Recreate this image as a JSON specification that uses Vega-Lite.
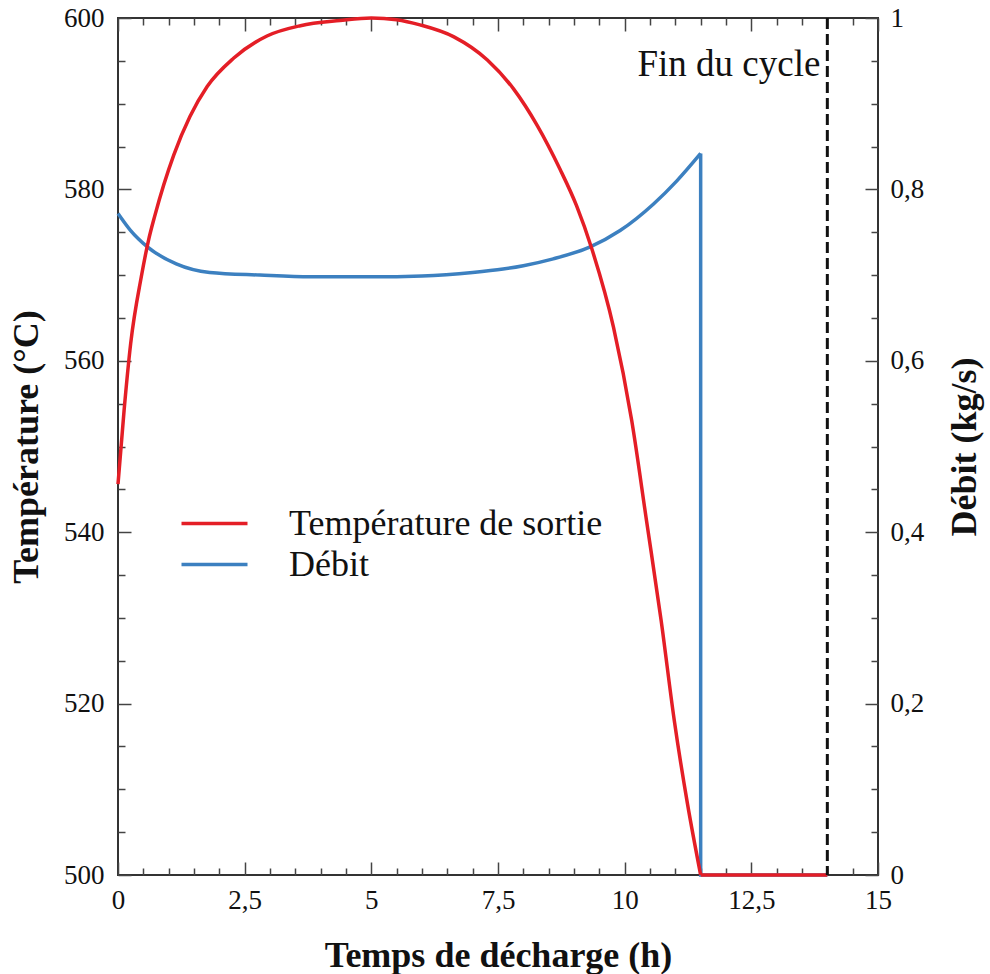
{
  "$schema": "https://vega.github.io/schema/vega-lite/v6.json",
  "width": 760,
  "height": 857,
  "autosize": {"type": "none"},
  "padding": {"left": 118, "top": 18, "right": 112, "bottom": 99},
  "background": "white",
  "config": {
    "view": {"stroke": "#333", "strokeWidth": 2},
    "font": "Liberation Serif",
    "text": {"font": "Liberation Serif"},
    "legend": {"labelFont": "Liberation Serif"},
    "axis": {
      "labelFont": "Liberation Serif",
      "labelFontSize": 27,
      "labelColor": "#111",
      "labelFlush": false,
      "titleFont": "Liberation Serif",
      "titleFontSize": 36,
      "titleFontWeight": "bold",
      "titleColor": "#111",
      "grid": false,
      "domain": false,
      "tickColor": "#444",
      "tickWidth": 1.5,
      "labelOverlap": false
    }
  },
  "datasets": {
    "temp": [
      {"t": 0, "T": 545.6},
      {"t": 0.12, "T": 554.2},
      {"t": 0.25, "T": 562.0},
      {"t": 0.46, "T": 569.8},
      {"t": 0.6, "T": 574.0},
      {"t": 0.73, "T": 577.0},
      {"t": 1.1, "T": 584.0},
      {"t": 1.42, "T": 588.5},
      {"t": 1.76, "T": 592.0},
      {"t": 2.28, "T": 595.3},
      {"t": 2.94, "T": 597.9},
      {"t": 3.6, "T": 599.1},
      {"t": 4.38, "T": 599.7},
      {"t": 5.0, "T": 600.0},
      {"t": 5.5, "T": 599.8},
      {"t": 5.96, "T": 599.2},
      {"t": 6.63, "T": 597.8},
      {"t": 7.29, "T": 595.1},
      {"t": 7.81, "T": 591.7},
      {"t": 8.27, "T": 587.5},
      {"t": 8.72, "T": 582.4},
      {"t": 9.05, "T": 578.1},
      {"t": 9.35, "T": 573.1},
      {"t": 9.78, "T": 563.9},
      {"t": 10.14, "T": 553.0},
      {"t": 10.43, "T": 541.4},
      {"t": 10.72, "T": 529.7},
      {"t": 10.98, "T": 518.0},
      {"t": 11.24, "T": 508.3},
      {"t": 11.5, "T": 500.0}
    ],
    "tempEnd": [
      {"t": 11.5, "T": 500.0},
      {"t": 14, "T": 500.0}
    ],
    "flow": [
      {"t": 0, "F": 0.772},
      {"t": 0.25, "F": 0.752},
      {"t": 0.58, "F": 0.733},
      {"t": 1.15, "F": 0.713},
      {"t": 1.81, "F": 0.703},
      {"t": 2.8, "F": 0.7},
      {"t": 3.8, "F": 0.698},
      {"t": 5.0, "F": 0.698},
      {"t": 6.0, "F": 0.699},
      {"t": 7.0, "F": 0.703},
      {"t": 7.6, "F": 0.707},
      {"t": 8.0, "F": 0.711},
      {"t": 8.59, "F": 0.719},
      {"t": 9.32, "F": 0.733},
      {"t": 9.91, "F": 0.752},
      {"t": 10.57, "F": 0.783},
      {"t": 11.03, "F": 0.81},
      {"t": 11.5, "F": 0.842}
    ],
    "flowEnd": [
      {"i": 1, "t": 11.5, "F": 0.842},
      {"i": 2, "t": 11.5, "F": 0},
      {"i": 3, "t": 14, "F": 0}
    ]
  },
  "layer": [
    {
      "data": {"name": "flow"},
      "mark": {"type": "line", "strokeWidth": 3.5, "interpolate": "monotone"},
      "encoding": {
        "x": {
          "field": "t", "type": "quantitative",
          "scale": {"domain": [0, 15], "nice": false, "zero": false},
          "axis": {
            "orient": "top", "title": null, "labels": false,
            "values": [0,0.5,1,1.5,2,2.5,3,3.5,4,4.5,5,5.5,6,6.5,7,7.5,8,8.5,9,9.5,10,10.5,11,11.5,12,12.5,13,13.5,14,14.5,15],
            "tickSize": {"condition": {"test": "datum.value % 2.5 === 0", "value": -13}, "value": -7}
          }
        },
        "y": {
          "field": "F", "type": "quantitative",
          "scale": {"domain": [0, 1], "nice": false},
          "axis": {
            "orient": "right", "title": "Débit (kg/s)", "titleAngle": 270, "titlePadding": 60,
            "values": [0,0.05,0.1,0.15,0.2,0.25,0.3,0.35,0.4,0.45,0.5,0.55,0.6,0.65,0.7,0.75,0.8,0.85,0.9,0.95,1],
            "labelExpr": "abs(datum.value*5 - round(datum.value*5)) < 0.000001 ? replace(format(datum.value, '~g'), '.', ',') : ''",
            "labelFont": "Liberation Serif",
            "labelPadding": 25,
            "labelBaseline": "middle",
            "tickSize": {"condition": {"test": "abs(datum.value*5 - round(datum.value*5)) < 0.000001", "value": -13}, "value": -7}
          }
        },
        "color": {
          "datum": "Débit",
          "scale": {"domain": ["Température de sortie", "Débit"], "range": ["#e41e26", "#3c80c0"]},
          "legend": {
            "title": null, "orient": "none", "legendX": 78, "legendY": 487,
            "symbolType": "M-2,0L2,0", "symbolSize": 1089, "symbolStrokeWidth": 3.5,
            "labelFont": "Liberation Serif", "labelFontSize": 36, "labelColor": "#111",
            "labelOffset": 56, "rowPadding": 4, "padding": 0, "labelLimit": 500
          }
        }
      }
    },
    {
      "data": {"name": "flowEnd"},
      "mark": {"type": "line", "strokeWidth": 3.5, "color": "#3c80c0"},
      "encoding": {
        "x": {"field": "t", "type": "quantitative", "scale": {"domain": [0, 15], "nice": false, "zero": false}, "axis": null},
        "y": {"field": "F", "type": "quantitative", "scale": {"domain": [0, 1], "nice": false}, "axis": null},
        "order": {"field": "i", "type": "quantitative"}
      }
    },
    {
      "data": {"name": "temp"},
      "mark": {"type": "line", "strokeWidth": 3.5, "interpolate": "monotone"},
      "encoding": {
        "x": {
          "field": "t", "type": "quantitative",
          "scale": {"domain": [0, 15], "nice": false, "zero": false},
          "axis": {
            "orient": "bottom", "title": "Temps de décharge (h)", "titlePadding": 19,
            "values": [0,0.5,1,1.5,2,2.5,3,3.5,4,4.5,5,5.5,6,6.5,7,7.5,8,8.5,9,9.5,10,10.5,11,11.5,12,12.5,13,13.5,14,14.5,15],
            "labelExpr": "datum.value % 2.5 === 0 ? replace(format(datum.value, '~g'), '.', ',') : ''",
            "labelFont": "Liberation Serif",
            "labelPadding": 25,
            "tickSize": {"condition": {"test": "datum.value % 2.5 === 0", "value": -13}, "value": -7}
          }
        },
        "y": {
          "field": "T", "type": "quantitative",
          "scale": {"domain": [500, 600], "nice": false, "zero": false},
          "axis": {
            "orient": "left", "title": "Température (°C)", "titleAngle": 270, "titlePadding": 18,
            "values": [500,505,510,515,520,525,530,535,540,545,550,555,560,565,570,575,580,585,590,595,600],
            "labelExpr": "datum.value % 20 === 0 ? format(datum.value, 'd') : ''",
            "labelFont": "Liberation Serif",
            "labelPadding": 27,
            "labelBaseline": "middle",
            "tickSize": {"condition": {"test": "datum.value % 20 === 0", "value": -13}, "value": -7}
          }
        },
        "color": {"datum": "Température de sortie"}
      }
    },
    {
      "data": {"name": "tempEnd"},
      "mark": {"type": "line", "strokeWidth": 3.5, "color": "#e41e26"},
      "encoding": {
        "x": {"field": "t", "type": "quantitative", "scale": {"domain": [0, 15], "nice": false, "zero": false}, "axis": null},
        "y": {"field": "T", "type": "quantitative", "scale": {"domain": [500, 600], "nice": false, "zero": false}, "axis": null}
      }
    },
    {
      "data": {"values": [{"t": 14}]},
      "mark": {"type": "rule", "strokeDash": [11, 5], "strokeWidth": 3, "color": "#111"},
      "encoding": {
        "x": {"field": "t", "type": "quantitative", "scale": {"domain": [0, 15], "nice": false, "zero": false}, "axis": null}
      }
    },
    {
      "data": {"values": [{"t": 14, "T": 594.5, "label": "Fin du cycle"}]},
      "mark": {"type": "text", "align": "right", "baseline": "middle", "dx": -7, "font": "Liberation Serif", "fontSize": 37, "color": "#111"},
      "encoding": {
        "x": {"field": "t", "type": "quantitative", "scale": {"domain": [0, 15], "nice": false, "zero": false}, "axis": null},
        "y": {"field": "T", "type": "quantitative", "scale": {"domain": [500, 600], "nice": false, "zero": false}, "axis": null},
        "text": {"field": "label"}
      }
    }
  ],
  "resolve": {"scale": {"y": "independent"}, "axis": {"x": "independent"}}
}
